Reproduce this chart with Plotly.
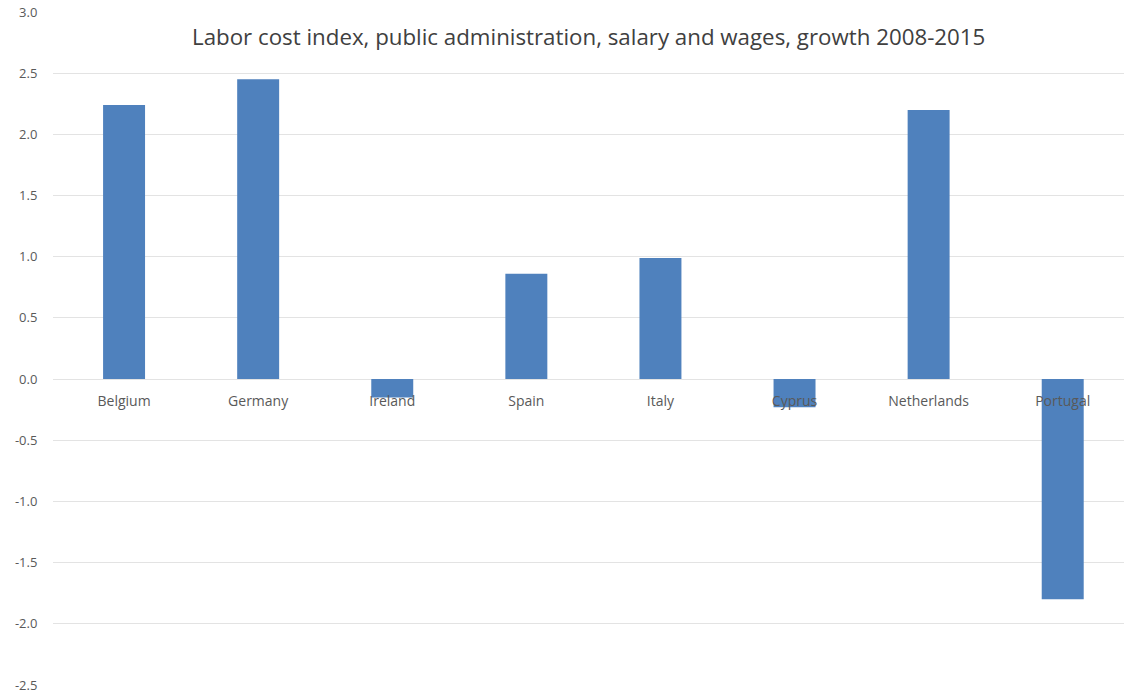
import plotly.graph_objects as go

countries = ["Belgium", "Germany", "Ireland", "Spain", "Italy", "Cyprus", "Netherlands", "Portugal"]
growth = [2.24, 2.45, -0.15, 0.86, 0.99, -0.23, 2.20, -1.80]
y_ticks = [-2.5, -2.0, -1.5, -1.0, -0.5, 0.0, 0.5, 1.0, 1.5, 2.0, 2.5, 3.0]
y_tick_labels = ["-2.5", "-2.0", "-1.5", "-1.0", "-0.5", "0.0", "0.5", "1.0", "1.5", "2.0", "2.5", "3.0"]
title_text = "Labor cost index, public administration, salary and wages, growth 2008-2015"

y_min, y_max = -2.5, 3.0
FONT = "Open Sans, Lato, sans-serif"

fig = go.Figure()
fig.add_trace(go.Bar(x=countries, y=growth, marker=dict(color="#4F81BD", line=dict(width=0)),
                     hoverinfo="x+y"))

top, bottom = 12, 12
fig.update_layout(
    width=1124, height=697,
    paper_bgcolor="white", plot_bgcolor="white",
    margin=dict(l=53, r=0, t=top, b=bottom),
    bargap=0.687,
    showlegend=False,
    font=dict(family=FONT, color="#595959"),
)
fig.add_annotation(text=title_text, xref="paper", yref="paper", x=0.5,
                   y=1 - (37 - top) / (697 - top - bottom),
                   showarrow=False, font=dict(size=22.3, color="#404040", family=FONT),
                   xanchor="center", yanchor="middle")

fig.update_xaxes(
    anchor="free", position=(0 - y_min) / (y_max - y_min),
    showline=False, showgrid=False, zeroline=False,
    ticks="outside", ticklen=9, tickcolor="rgba(0,0,0,0)",
    tickfont=dict(size=14, color="#595959", family=FONT),
    layer="above traces",
    range=[-0.53, 7.457],
)
fig.update_yaxes(
    range=[y_min, y_max], tickvals=y_ticks, ticktext=y_tick_labels,
    showgrid=True, gridcolor="#e3e3e3", gridwidth=1,
    zeroline=True, zerolinecolor="#e3e3e3", zerolinewidth=1,
    showline=False, ticks="outside", ticklen=12, tickcolor="rgba(0,0,0,0)",
    tickfont=dict(size=13, color="#595959", family=FONT),
    layer="below traces",
)

fig.write_html("out.html", config={"displayModeBar": False},
               post_script="document.body.style.margin='0';")
